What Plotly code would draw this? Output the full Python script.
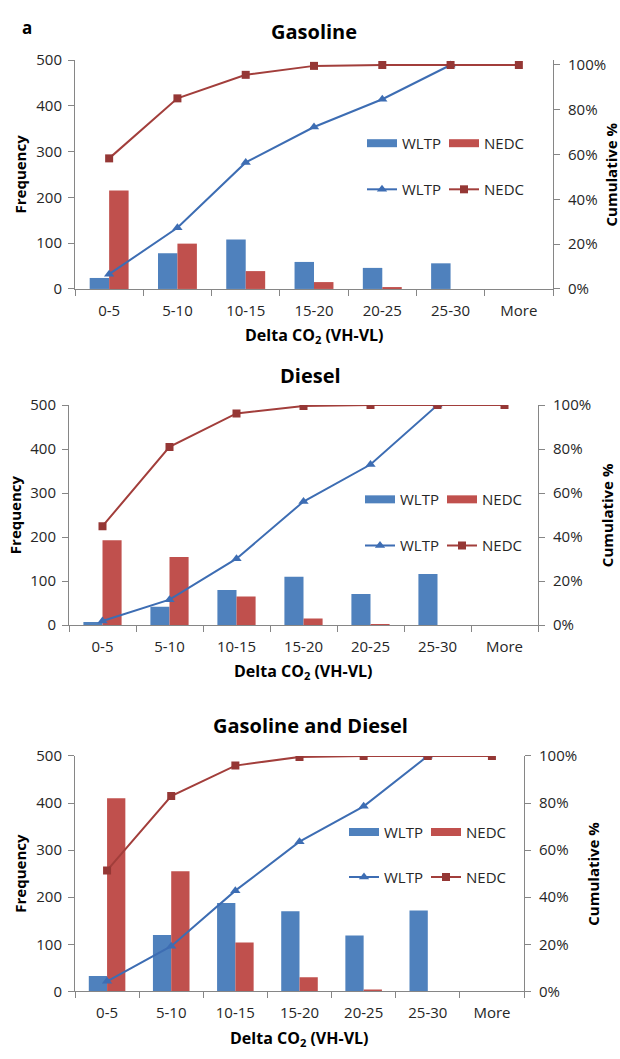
import plotly.graph_objects as go

W, H = 620, 1059

categories = ["0-5", "5-10", "10-15", "15-20", "20-25", "25-30", "More"]

panel_titles = ["Gasoline", "Diesel", "Gasoline and Diesel"]

# Frequencies
gas_wltp = [24, 78, 108, 59, 46, 56, 0]
gas_nedc = [215, 99, 39, 15, 2, 0, 0]
die_wltp = [7, 42, 80, 110, 71, 116, 0]
die_nedc = [193, 155, 65, 15, 2, 0, 0]
all_wltp = [33, 120, 188, 170, 119, 172, 0]
all_nedc = [410, 255, 104, 30, 4, 0, 0]

# Cumulative %
gas_wltp_cum = [6.6, 27.3, 56.5, 72.3, 84.7, 100.0, None]
gas_nedc_cum = [58.3, 85.1, 95.6, 99.6, 100.0, 100.0, 100.0]
die_wltp_cum = [1.9, 11.6, 30.2, 56.2, 73.0, 100.0, None]
die_nedc_cum = [45.0, 81.0, 96.2, 99.6, 100.0, 100.0, 100.0]
all_wltp_cum = [4.3, 19.2, 42.8, 63.6, 78.6, 100.0, None]
all_nedc_cum = [51.4, 83.0, 95.9, 99.6, 100.0, 100.0, 100.0]

freq_ticks = [0, 100, 200, 300, 400, 500]
cum_ticks = [0, 0.2, 0.4, 0.6, 0.8, 1.0]

BAR_BLUE = "#4F81BD"
BAR_RED = "#C0504D"
LINE_BLUE = "#3D6DB3"
LINE_RED = "#A23E3B"
MARK_RED = "#953735"
AXIS = "#868686"
TXT = "#262626"
FONT = "Open Sans"

# pixel layout of the three panels
panels = [
    dict(l=75, r=553, t=50, b=283.3, rtop=1.022, title_y=21, title_x=314,
         xt_y=331, fx=20, cx=611, leg_y1=135, leg_y2=182, leg_x=402),
    dict(l=69, r=538, t=401.7, b=626, rtop=1.0, title_y=372, title_x=310,
         xt_y=673, fx=15, cx=607, leg_y1=498, leg_y2=545, leg_x=400),
    dict(l=75, r=524, t=759.3, b=999.3, rtop=1.0, title_y=728, title_x=310,
         xt_y=1047, fx=20, cx=593, leg_y1=837, leg_y2=883, leg_x=384),
]

data = [
    (gas_wltp, gas_nedc, gas_wltp_cum, gas_nedc_cum),
    (die_wltp, die_nedc, die_wltp_cum, die_nedc_cum),
    (all_wltp, all_nedc, all_wltp_cum, all_nedc_cum),
]

fig = go.Figure()

def px(x):
    return x / W

def py(y):
    return 1 - y / H

layout = dict(
    width=W, height=H,
    margin=dict(l=0, r=0, t=0, b=0),
    paper_bgcolor="white", plot_bgcolor="rgba(0,0,0,0)",
    font=dict(family=FONT, size=15, color=TXT),
    barmode="group", bargap=0.43, bargroupgap=0.0,
    showlegend=True,
)
annotations = []

for i, (p, (bw, bn, cw, cn)) in enumerate(zip(panels, data)):
    xa = "x" if i == 0 else f"x{i+1}"
    ya_l = "y" if i == 0 else f"y{2*i+1}"
    ya_r = f"y{2*i+2}"
    leg_b = "legend" if i == 0 else f"legend{2*i+1}"
    leg_l = f"legend{2*i+2}"

    fig.add_trace(go.Bar(x=categories, y=bw, name="WLTP", marker_color=BAR_BLUE,
                         marker_line_width=0, xaxis=xa, yaxis=ya_l,
                         showlegend=False, offsetgroup="w"))
    fig.add_trace(go.Bar(x=categories, y=bn, name="NEDC", marker_color=BAR_RED,
                         marker_line_width=0, xaxis=xa, yaxis=ya_l,
                         showlegend=False, offsetgroup="n"))
    # legend keys for the bar series (wide Excel-style swatches)
    for nm, col in (("WLTP", BAR_BLUE), ("NEDC", BAR_RED)):
        fig.add_trace(go.Scatter(x=[None], y=[None], name=nm, mode="lines",
                                 line=dict(color=col, width=8), hoverinfo="skip",
                                 xaxis=xa, yaxis=ya_l, legend=leg_b))
    fig.add_trace(go.Scatter(x=categories, y=[None if v is None else v / 100 for v in cw],
                             name="WLTP", mode="lines+markers",
                             line=dict(color=LINE_BLUE, width=2),
                             marker=dict(symbol="triangle-up", size=9, color=LINE_BLUE),
                             xaxis=xa, yaxis=ya_r, legend=leg_l))
    fig.add_trace(go.Scatter(x=categories, y=[None if v is None else v / 100 for v in cn],
                             name="NEDC", mode="lines+markers",
                             line=dict(color=LINE_RED, width=2),
                             marker=dict(symbol="square", size=8, color=MARK_RED),
                             xaxis=xa, yaxis=ya_r, legend=leg_l))

    xkey = "xaxis" if i == 0 else f"xaxis{i+1}"
    ylkey = "yaxis" if i == 0 else f"yaxis{2*i+1}"
    yrkey = f"yaxis{2*i+2}"
    dom_x = [px(p["l"]), px(p["r"])]
    dom_y = [py(p["b"]), py(p["t"])]
    layout[xkey] = dict(domain=dom_x, anchor=ya_l, type="category",
                        categoryorder="array", categoryarray=categories,
                        range=[-0.5, len(categories) - 0.5],
                        showline=True, linecolor=AXIS, linewidth=1,
                        ticks="outside", tickson="boundaries", ticklen=6,
                        tickcolor=AXIS, showgrid=False, zeroline=False,
                        ticklabelstandoff=8,
                        tickfont=dict(size=15, color=TXT), fixedrange=True)
    layout[ylkey] = dict(domain=dom_y, anchor=xa, range=[0, 500],
                         tickvals=freq_ticks, showline=True, linecolor=AXIS,
                         linewidth=1, ticks="outside", ticklen=6, tickcolor=AXIS,
                         showgrid=False, zeroline=False, ticklabelstandoff=3,
                         tickfont=dict(size=15, color=TXT), fixedrange=True)
    layout[yrkey] = dict(overlaying=ya_l, anchor=xa, side="right",
                         range=[0, p["rtop"]], tickvals=cum_ticks,
                         tickformat=".0%", showline=True, linecolor=AXIS,
                         linewidth=1, ticks="outside", ticklen=6, tickcolor=AXIS,
                         showgrid=False, zeroline=False, ticklabelstandoff=5,
                         tickfont=dict(size=15, color=TXT), fixedrange=True)
    for lk, ly in ((leg_b, p["leg_y1"]), (leg_l, p["leg_y2"])):
        layout[lk] = dict(orientation="h", x=px(p["leg_x"] - 40), xanchor="left",
                          y=py(ly), yanchor="middle", itemwidth=30,
                          entrywidth=37, entrywidthmode="pixels",
                          bgcolor="rgba(0,0,0,0)", borderwidth=0,
                          font=dict(size=15, color=TXT),
                          itemclick=False, itemdoubleclick=False,
                          traceorder="normal")

    annotations.append(dict(text=f"<b>{panel_titles[i]}</b>", x=px(p["title_x"]),
                            y=py(p["title_y"]), xref="paper", yref="paper",
                            showarrow=False, xanchor="center", yanchor="middle",
                            font=dict(size=20, color="#000000")))
    annotations.append(dict(text="<b>Delta CO<sub>2</sub> (VH-VL)</b>",
                            x=px((p["l"] + p["r"]) / 2), y=py(p["xt_y"]),
                            xref="paper", yref="paper", showarrow=False,
                            xanchor="center", yanchor="middle",
                            font=dict(size=16, color="#000000")))
    annotations.append(dict(text="<b>Frequency</b>", x=px(p["fx"]),
                            y=py((p["t"] + p["b"]) / 2), xref="paper", yref="paper",
                            showarrow=False, textangle=-90, xanchor="center",
                            yanchor="middle", font=dict(size=15, color="#000000")))
    annotations.append(dict(text="<b>Cumulative %</b>", x=px(p["cx"]),
                            y=py((p["t"] + p["b"]) / 2), xref="paper", yref="paper",
                            showarrow=False, textangle=-90, xanchor="center",
                            yanchor="middle", font=dict(size=15, color="#000000")))

annotations.append(dict(text="<b>a</b>", x=px(27), y=py(17), xref="paper", yref="paper",
                        showarrow=False, xanchor="center", yanchor="middle",
                        font=dict(size=17, color="#000000")))

layout["annotations"] = annotations
fig.update_layout(**layout)

fig.write_html("out.html", config={"displayModeBar": False},
               post_script="document.body.style.margin='0';")
